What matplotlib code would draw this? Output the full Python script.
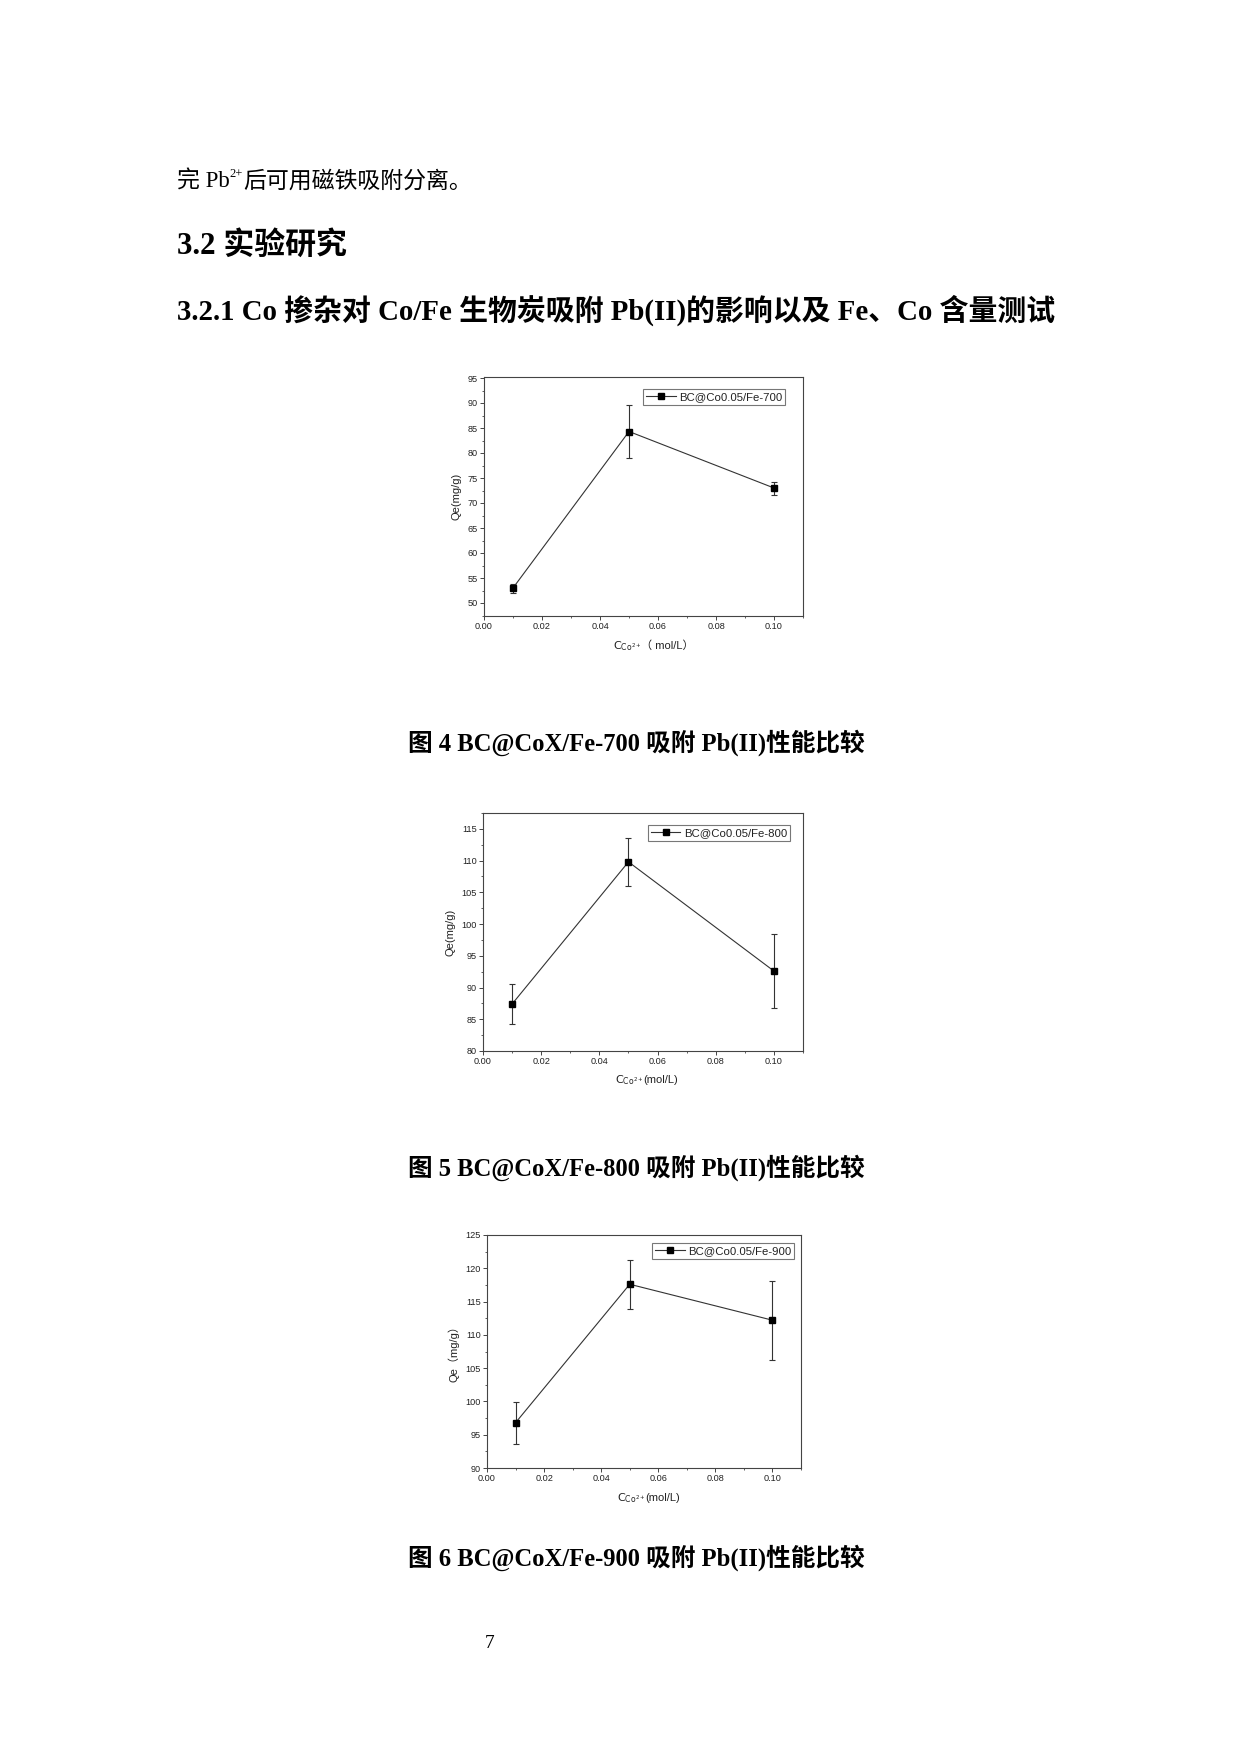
import matplotlib
matplotlib.use('Agg')
import matplotlib.pyplot as plt
from matplotlib.lines import Line2D
from matplotlib.ticker import FixedLocator, MultipleLocator, FormatStrFormatter

plt.rcParams['mathtext.fontset'] = 'custom'
plt.rcParams['mathtext.rm'] = 'Liberation Sans'
plt.rcParams['mathtext.it'] = 'Liberation Sans:italic'
plt.rcParams['mathtext.bf'] = 'Liberation Sans:bold'

# ---------------- data ----------------
conc = [0.01, 0.05, 0.10]
xticks = [0.00, 0.02, 0.04, 0.06, 0.08, 0.10]

qe_700 = [53.0, 84.3, 73.0]
err_700 = [0.9, 5.3, 1.3]
qe_800 = [87.4, 109.8, 92.6]
err_800 = [3.2, 3.75, 5.9]
qe_900 = [96.8, 117.6, 112.2]
err_900 = [3.15, 3.7, 5.95]

names = ['BC@Co0.05/Fe-700', 'BC@Co0.05/Fe-800', 'BC@Co0.05/Fe-900']
yticks_700 = [50, 55, 60, 65, 70, 75, 80, 85, 90, 95]
yticks_800 = [80, 85, 90, 95, 100, 105, 110, 115]
yticks_900 = [90, 95, 100, 105, 110, 115, 120, 125]
ylabels = ['Qe(mg/g)', 'Qe(mg/g)', 'Qe（mg/g）']
xunit = ['（ mol/L）', '(mol/L)', '(mol/L)']
captions = ['图 4 BC@CoX/Fe-700 吸附 Pb(II)性能比较',
            '图 5 BC@CoX/Fe-800 吸附 Pb(II)性能比较',
            '图 6 BC@CoX/Fe-900 吸附 Pb(II)性能比较']
body_pre = '完 Pb'
body_sup = '2+'
body_post = '后可用磁铁吸附分离。'
heading = '3.2 实验研究'
subheading = '3.2.1 Co 掺杂对 Co/Fe 生物炭吸附 Pb(II)的影响以及 Fe、Co 含量测试'
page_no = '7'

SERIF = ['Liberation Serif', 'Noto Sans CJK SC']
SANS = ['Liberation Sans', 'Noto Sans CJK SC']

W, H = 1240, 1754
fig = plt.figure(figsize=(W / 100, H / 100), dpi=100)
fig.patch.set_facecolor('white')
tax = fig.add_axes([0, 0, 1, 1])
tax.set_axis_off()
tax.set_xlim(0, W)
tax.set_ylim(H, 0)


def fit(t, target):
    fig.canvas.draw()
    r = fig.canvas.get_renderer()
    w = t.get_window_extent(r).width
    t.set_fontsize(t.get_fontsize() * target / w)


# ---------------- page text ----------------
t1 = tax.text(177, 188, body_pre, fontsize=16.5, family=SERIF, va='baseline', ha='left')
fig.canvas.draw()
t2 = tax.annotate(body_sup, xy=(1, 177), xycoords=(t1, 'data'), fontsize=9,
                  family=SERIF, va='baseline', ha='left')
t3 = tax.annotate(body_post, xy=(1, 188), xycoords=(t2, 'data'), fontsize=16.5,
                  family=SERIF, va='baseline', ha='left')

th = tax.text(177, 246, heading, fontsize=20, family=SERIF, weight='bold',
              va='center', ha='left')
fit(th, 170)
ts = tax.text(177, 310, subheading, fontsize=19, family=SERIF, weight='bold',
              va='center', ha='left')
fit(ts, 878)

cap_y = [743, 1168, 1558]
for c, y in zip(captions, cap_y):
    tc = tax.text(636, y, c, fontsize=16, family=SERIF, weight='bold',
                  va='center', ha='center')
    fit(tc, 458)

tax.text(490, 1643, page_no, fontsize=14, family=SERIF, va='center', ha='center')

# ---------------- charts ----------------
rects = [(484, 377, 803, 616), (483, 813, 803, 1051), (487, 1235, 801, 1468)]
ylims = [(47.4, 95.2), (80, 117.5), (90, 125)]
leg_anchor = [(0.944, 0.950), (0.959, 0.950), (0.978, 0.966)]
xlab_pos = [(613, 649), (615, 1083), (617, 1501)]
ylab_pad = [4, 4, 4]
series = [(qe_700, err_700, yticks_700), (qe_800, err_800, yticks_800),
          (qe_900, err_900, yticks_900)]

SP = '#444444'
for i, ((l, t, r, b), (qe, err, yt)) in enumerate(zip(rects, series)):
    ax = fig.add_axes([l / W, 1 - b / H, (r - l) / W, (b - t) / H])
    ax.errorbar(conc, qe, yerr=err, color='#333333', lw=0.8, marker='s',
                ms=3.9, mfc='black', mec='black', ecolor='#333333',
                elinewidth=0.8, capsize=2.2, capthick=0.8)
    ax.set_xlim(0, 0.11)
    ax.set_ylim(*ylims[i])
    ax.xaxis.set_major_locator(FixedLocator(xticks))
    ax.xaxis.set_minor_locator(MultipleLocator(0.01))
    ax.xaxis.set_major_formatter(FormatStrFormatter('%.2f'))
    ax.yaxis.set_major_locator(FixedLocator(yt))
    ax.yaxis.set_minor_locator(MultipleLocator(2.5))
    for s in ax.spines.values():
        s.set_color(SP)
        s.set_linewidth(0.8)
    ax.tick_params(which='major', direction='out', length=3, width=0.7,
                   color=SP, labelsize=6.6, labelcolor='#222222', pad=1.5)
    ax.tick_params(which='minor', direction='out', length=1.6, width=0.6,
                   color=SP)
    for lab in ax.get_xticklabels() + ax.get_yticklabels():
        lab.set_family(SANS)
    ax.set_ylabel(ylabels[i], family=SANS, fontsize=8, labelpad=ylab_pad[i],
                  color='#222222')
    handle = Line2D([], [], color='#333333', lw=0.8, marker='s', ms=3.9,
                    mfc='black', mec='black')
    leg = ax.legend([handle], [names[i]], loc='upper right',
                    bbox_to_anchor=leg_anchor[i],
                    borderaxespad=0, handlelength=2.6,
                    handletextpad=0.3, borderpad=0.25, fancybox=False,
                    framealpha=1, prop={'family': SANS, 'size': 8.2})
    leg.get_frame().set_edgecolor('#777777')
    leg.get_frame().set_linewidth(0.8)
    for txt in leg.get_texts():
        txt.set_color('#222222')
    # x label as two pieces
    xp, yp = xlab_pos[i]
    xl1 = tax.text(xp, yp, r'$\mathregular{C_{Co^{2+}}}$', fontsize=8,
                   color='#222222', va='baseline', ha='left')
    fig.canvas.draw()
    tax.annotate(xunit[i], xy=(1, yp), xycoords=(xl1, 'data'), fontsize=8,
                 family=SANS, color='#222222', va='baseline', ha='left')

fig.savefig('out.png', dpi=100, facecolor='white')
